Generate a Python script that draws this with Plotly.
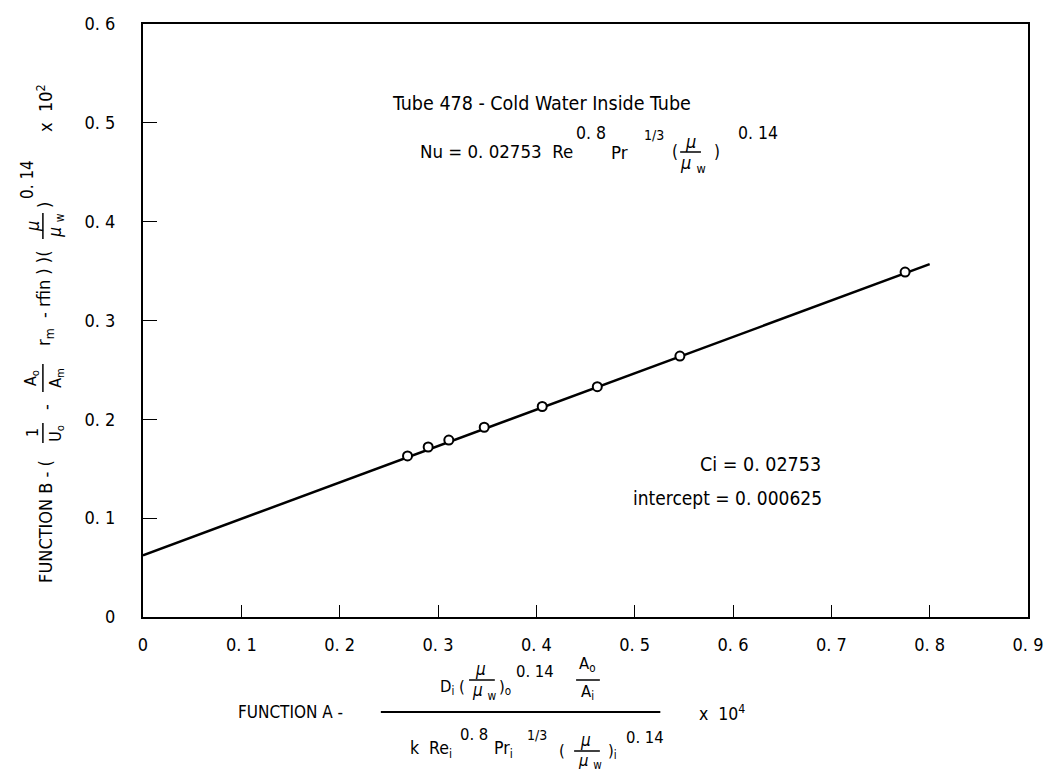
import plotly.graph_objects as go

# Data
function_a = [0.269, 0.290, 0.311, 0.347, 0.406, 0.462, 0.546, 0.775]
function_b = [0.163, 0.172, 0.179, 0.192, 0.213, 0.233, 0.264, 0.349]
fit_x = [0.0, 0.8]
fit_y = [0.0625, 0.357]
x_ticks = [0, 0.1, 0.2, 0.3, 0.4, 0.5, 0.6, 0.7, 0.8, 0.9]
x_tick_labels = ["0", "0. 1", "0. 2", "0. 3", "0. 4", "0. 5", "0. 6", "0. 7", "0. 8", "0. 9"]
y_ticks = [0, 0.1, 0.2, 0.3, 0.4, 0.5, 0.6]
y_tick_labels = ["0", "0. 1", "0. 2", "0. 3", "0. 4", "0. 5", "0. 6"]

W, H = 1055, 774
L, R, T, B = 143, 1036, 24, 617
FONT = "Liberation Sans Narrow, DejaVu Sans Condensed, Roboto Condensed, Arial Narrow, sans-serif"

def px(x):
    return (x - L) / (R - L)

def py(y):
    return (B - y) / (B - T)

annotations = []
shapes = []

def txt(x, y, s, size=18, xanchor="center", angle=0):
    annotations.append(dict(x=px(x), y=py(y), xref="paper", yref="paper", text=s,
                            showarrow=False, xanchor=xanchor, yanchor="middle",
                            textangle=angle, font=dict(family=FONT, size=size, color="black")))

def hbar(x0, x1, y, w=1.5):
    shapes.append(dict(type="line", xref="paper", yref="paper", x0=px(x0), x1=px(x1),
                       y0=py(y), y1=py(y), line=dict(color="black", width=w)))

def vbar(x, y0, y1, w=1.5):
    shapes.append(dict(type="line", xref="paper", yref="paper", x0=px(x), x1=px(x),
                       y0=py(y0), y1=py(y1), line=dict(color="black", width=w)))

fig = go.Figure()
fig.add_trace(go.Scatter(x=fit_x, y=fit_y, mode="lines",
                         line=dict(color="black", width=2.5), showlegend=False))
fig.add_trace(go.Scatter(x=function_a, y=function_b, mode="markers",
                         marker=dict(symbol="circle", size=9, color="white",
                                     line=dict(color="black", width=2)),
                         showlegend=False))

# Inner annotations
txt(545, 103, "Tube 478 - Cold Water Inside Tube", 19.5)
txt(420, 151, "Nu = 0. 02753  Re", 18.5, "left")
txt(578, 133, "0. 8", 17.5, "left")
txt(613, 152, "Pr", 18.5, "left")
txt(647, 135, "1/3", 14, "left")
txt(680, 152, "(", 17)
txt(695, 141, "<i>μ</i>", 18)
hbar(685, 706, 152)
txt(698, 164, "<i>μ</i> <sub>w</sub>", 18)
txt(722, 152, ")", 17)
txt(741, 133, "0. 14", 17.5, "left")

txt(766, 464, "Ci = 0. 02753", 19.5)
txt(733, 498, "intercept = 0. 000625", 19)

# X axis title (stacked fraction)
txt(292, 712, "FUNCTION A -", 17)
txt(470, 687, "D<sub>i</sub> (", 16.5, "right")
txt(484, 669, "<i>μ</i>", 17)
hbar(472, 498, 680)
txt(488, 691, "<i>μ</i> <sub>w</sub>", 17)
txt(500, 688, ")<sub>o</sub>", 16.5, "left")
txt(517, 671, "0. 14", 16.5, "left")
txt(592, 664, "A<sub>o</sub>", 16.5)
hbar(580, 604, 680)
txt(592, 692, "A<sub>i</sub>", 16.5)
hbar(383, 665, 712, 1.8)
txt(410, 749, "k  Re<sub>i</sub>", 17.5, "left")
txt(461, 734, "0. 8", 16.5, "left")
txt(495, 749, "Pr<sub>i</sub>", 17.5, "left")
txt(528, 735, "1/3", 14, "left")
txt(566, 750, "(", 16.5)
txt(590, 740, "<i>μ</i>", 17)
hbar(578, 604, 751)
txt(594, 761, "<i>μ</i> <sub>w</sub>", 16.5)
txt(610, 751, ")<sub>i</sub>", 16.5, "left")
txt(628, 737, "0. 14", 16.5, "left")
txt(702, 713, "x  10<sup>4</sup>", 17.5, "left")

# Y axis title (rotated, with stacked fractions)
YA = -90
txt(44, 521, "FUNCTION B - (", 18, "center", YA)
txt(31, 433, "1", 16, "center", YA)
vbar(42, 443, 423)
txt(55, 433, "U<sub>o</sub>", 16, "center", YA)
txt(44, 407, "-", 18, "center", YA)
txt(30, 378, "A<sub>o</sub>", 16, "center", YA)
vbar(42, 392, 364)
txt(55, 378, "A<sub>m</sub>", 16, "center", YA)
txt(44, 298, "r<sub>m</sub>  - rfin ) )(", 18, "center", YA)
txt(31, 227, "<i>μ</i>", 18, "center", YA)
vbar(42, 239, 213)
txt(55, 225, "<i>μ</i> <sub>w</sub>", 17, "center", YA)
txt(44, 205, ")", 18, "center", YA)
txt(26, 180, "0. 14", 17, "center", YA)
txt(44, 108, "x  10<sup>2</sup>", 18, "center", YA)

fig.update_layout(
    width=W, height=H,
    margin=dict(l=L, r=W - R, t=T, b=H - B, pad=0),
    paper_bgcolor="white", plot_bgcolor="white",
    font=dict(family=FONT, size=18, color="black"),
    annotations=annotations, shapes=shapes,
    xaxis=dict(range=[0, 0.9], tickvals=x_ticks, ticktext=x_tick_labels,
               ticks="inside", ticklen=12, tickwidth=1.3, tickcolor="black",
               showline=True, linecolor="black", linewidth=2, mirror=True,
               showgrid=False, zeroline=False, ticklabelstandoff=10,
               tickfont=dict(family=FONT, size=18)),
    yaxis=dict(range=[0, 0.6], tickvals=y_ticks, ticktext=y_tick_labels,
               ticks="inside", ticklen=14, tickwidth=1.3, tickcolor="black",
               showline=True, linecolor="black", linewidth=2, mirror=True,
               showgrid=False, zeroline=False, ticklabelstandoff=22,
               tickfont=dict(family=FONT, size=18)),
)

fig.write_html("out.html")
